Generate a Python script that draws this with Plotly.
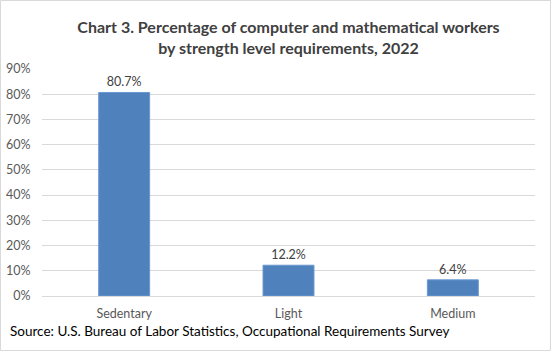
import plotly.graph_objects as go

categories = ["Sedentary", "Light", "Medium"]
values = [80.7, 12.2, 6.4]
tick_vals = [0, 10, 20, 30, 40, 50, 60, 70, 80, 90]
tick_text = [f"{v}%" for v in tick_vals]
labels = [f"{v}%" for v in values]

W, H = 551, 351
L, R, T, B = 42, 16, 69, 55
pw, ph = W - L - R, H - T - B

def px(x):
    return (x - L) / pw

def py(y):
    return (H - B - y) / ph

fig = go.Figure(go.Bar(
    x=categories, y=values, text=labels, textposition="outside",
    textfont=dict(family="Lato, Carlito, sans-serif", size=12.5, color="#404040"),
    marker=dict(color="#4f81bd", line=dict(color="#6a98d0", width=1)),
    cliponaxis=False,
))

fig.update_layout(
    width=W, height=H,
    margin=dict(l=L, r=R, t=T, b=B, autoexpand=False),
    paper_bgcolor="white", plot_bgcolor="white",
    bargap=0.69,
    showlegend=False,
    font=dict(family="Lato, Carlito, sans-serif"),
    title=dict(
        text="<b>Chart 3. Percentage of computer and mathematical workers<br>by strength level requirements, 2022</b>",
        x=0.5, xref="paper", xanchor="center", y=1 - 33 / H, yanchor="middle",
        font=dict(size=16, color="#404040", family="Lato, Carlito, sans-serif"),
    ),
    yaxis=dict(range=[0, 90], tickvals=tick_vals, ticktext=tick_text,
               showgrid=True, gridcolor="#d9d9d9", gridwidth=1, zeroline=False,
               tickfont=dict(size=12.5, color="#595959"),
               ticks="outside", ticklen=8, tickcolor="rgba(0,0,0,0)",
               automargin=False, fixedrange=True),
    xaxis=dict(showline=True, linecolor="#d9d9d9", linewidth=1,
               tickfont=dict(size=12.5, color="#595959"),
               ticks="outside", ticklen=6, tickcolor="rgba(0,0,0,0)",
               automargin=False),
    annotations=[dict(
        text="Source: U.S. Bureau of Labor Statistics, Occupational Requirements Survey",
        xref="paper", yref="paper", x=px(8), y=py(331), xanchor="left", yanchor="middle",
        showarrow=False, font=dict(size=13.5, color="#000000", family="Lato, Carlito, sans-serif"),
    )],
    shapes=[dict(type="rect", xref="paper", yref="paper",
                 x0=px(0.5), x1=px(550.5), y0=py(350.5), y1=py(0.5),
                 line=dict(color="#d9d9d9", width=1), layer="below")],
)

fig.write_html("out.html")
